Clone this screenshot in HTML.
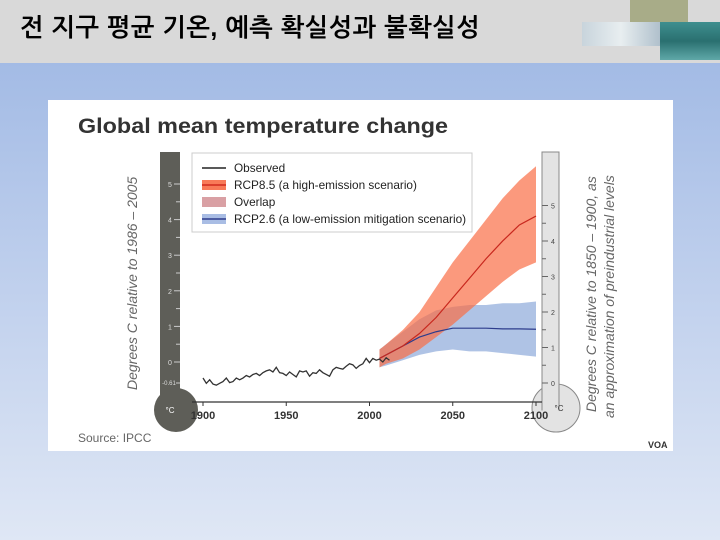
<!DOCTYPE html>
<html><head><meta charset="utf-8">
<style>
body{margin:0;width:720px;height:540px;overflow:hidden;font-family:"Liberation Sans","Noto Sans CJK KR",sans-serif;}
#bg{position:absolute;left:0;top:0;width:720px;height:540px;background:linear-gradient(#a3bbe5 63px,#b5c8ea 200px,#dfe7f5 540px);}
#hdr{position:absolute;left:0;top:0;width:720px;height:63px;background:#d9d9d9;}
#title{position:absolute;left:20px;top:14px;font-size:25px;font-weight:bold;color:#000;letter-spacing:0.5px;font-family:"Liberation Sans","NanumGothic","Noto Sans CJK KR",sans-serif;}
#panel{position:absolute;left:48px;top:100px;width:625px;height:351px;background:#fff;}
</style></head><body>
<div id="bg"></div>
<div id="hdr">
<div id="title">전 지구 평균 기온, 예측 확실성과 불확실성</div>
<div style="position:absolute;left:582px;top:22px;width:78px;height:24px;background:linear-gradient(90deg,#c8d4dc,#e8eef0,#b0c0cc);"></div>
<div style="position:absolute;left:630px;top:0;width:58px;height:22px;background:#a8ac88;"></div>
<div style="position:absolute;left:660px;top:22px;width:60px;height:38px;background:linear-gradient(#3f8f8f,#2a7070 50%,#5fa8a8);"></div>
</div>
<div id="panel"></div>
<svg id="chart" width="720" height="540" style="position:absolute;left:0;top:0"></svg>
<script>
const obsYears=[1900,1902,1904,1906,1908,1910,1912,1914,1916,1918,1920,1922,1924,1926,1928,1930,1932,1934,1936,1938,1940,1942,1944,1946,1948,1950,1952,1954,1956,1958,1960,1962,1964,1966,1968,1970,1972,1974,1976,1978,1980,1982,1984,1986,1988,1990,1992,1994,1996,1998,2000,2002,2004,2006,2008,2010,2012];
const obsValues=[-0.45,-0.6,-0.5,-0.62,-0.65,-0.6,-0.55,-0.45,-0.58,-0.55,-0.45,-0.5,-0.45,-0.38,-0.42,-0.35,-0.32,-0.38,-0.3,-0.25,-0.22,-0.28,-0.15,-0.3,-0.32,-0.38,-0.28,-0.35,-0.42,-0.25,-0.28,-0.25,-0.4,-0.3,-0.32,-0.22,-0.3,-0.35,-0.4,-0.22,-0.15,-0.18,-0.2,-0.12,-0.05,-0.08,-0.18,-0.1,-0.05,0.1,-0.02,0.1,0.05,0.08,0.0,0.12,0.05];
const projYears=[2006,2010,2020,2030,2040,2050,2060,2070,2080,2090,2100];
const rcp85Mean=[0.1,0.2,0.45,0.8,1.25,1.8,2.35,2.9,3.4,3.85,4.1];
const rcp85Upper=[0.35,0.5,0.9,1.4,2.1,2.8,3.4,4.0,4.6,5.1,5.5];
const rcp85Lower=[-0.15,-0.05,0.1,0.35,0.7,1.05,1.45,1.85,2.25,2.6,2.8];
const rcp26Mean=[0.1,0.2,0.45,0.7,0.85,0.95,0.95,0.95,0.93,0.93,0.92];
const rcp26Upper=[0.35,0.5,0.85,1.2,1.45,1.55,1.6,1.6,1.65,1.65,1.7];
const rcp26Lower=[-0.15,-0.1,0.05,0.2,0.3,0.35,0.3,0.3,0.25,0.2,0.15];
const xTicks=[1900,1950,2000,2050,2100];
const leftTicks=[0,1,2,3,4,5];
const rightTicks=[0,1,2,3,4,5];

const NS="http://www.w3.org/2000/svg";
const svg=document.getElementById('chart');
const xs=y=>203+(y-1900)*1.665;
const ys=v=>362-v*35.6;
const yr=v=>383-v*35.5;
function mk(t,a,p){const e=document.createElementNS(NS,t);for(const k in a)e.setAttribute(k,a[k]);(p||svg).appendChild(e);return e;}
function txt(x,y,s,a,p){const e=mk('text',Object.assign({x:x,y:y},a),p);e.textContent=s;return e;}

let t=txt(78,133,'Global mean temperature change',{'font-size':21,'font-weight':'bold',fill:'#333',textLength:370,lengthAdjust:'spacingAndGlyphs'});



let g=mk('g',{});


mk('rect',{x:160,y:152,width:20,height:250,fill:'#5e5e58'},g);
mk('circle',{cx:176,cy:410,r:22,fill:'#5e5e58'},g);
txt(170,413,'°C',{'font-size':8,fill:'#fff','text-anchor':'middle'},g);
leftTicks.forEach(v=>{mk('line',{x1:174,x2:180,y1:ys(v),y2:ys(v),stroke:'#ccc','stroke-width':1},g);txt(170,ys(v)+3,String(v),{'font-size':7,fill:'#ddd','text-anchor':'middle'},g);});
[0.5,1.5,2.5,3.5,4.5].forEach(v=>mk('line',{x1:176,x2:180,y1:ys(v),y2:ys(v),stroke:'#ccc'},g));
txt(169,385,'-0.61',{'font-size':6,fill:'#ddd','text-anchor':'middle'},g);
mk('line',{x1:176,x2:180,y1:383,y2:383,stroke:'#ccc'},g);
t=txt(0,0,'Degrees C relative to 1986 – 2005',{'font-size':14,'font-style':'italic',fill:'#666',transform:'translate(137,390) rotate(-90)'});



g=mk('g',{});


mk('circle',{cx:556,cy:408,r:24,fill:'#e3e3e3',stroke:'#888','stroke-width':1},g);
mk('rect',{x:542,y:152,width:17,height:258,fill:'#e3e3e3',stroke:'#888','stroke-width':1},g);
mk('rect',{x:542.5,y:390,width:16,height:22,fill:'#e3e3e3'},g);
txt(559,411,'°C',{'font-size':8,fill:'#333','text-anchor':'middle'},g);
rightTicks.forEach(v=>{mk('line',{x1:542,x2:548,y1:yr(v),y2:yr(v),stroke:'#666'},g);txt(553,yr(v)+3,String(v),{'font-size':7,fill:'#444','text-anchor':'middle'},g);});
[0.5,1.5,2.5,3.5,4.5].forEach(v=>mk('line',{x1:542,x2:546,y1:yr(v),y2:yr(v),stroke:'#666'},g));
t=txt(0,0,'Degrees C relative to 1850 – 1900, as',{'font-size':14,'font-style':'italic',fill:'#666',transform:'translate(596,412) rotate(-90)'});


t=txt(0,0,'an approximation of preindustrial levels',{'font-size':14,'font-style':'italic',fill:'#666',transform:'translate(614,418) rotate(-90)'});



g=mk('g',{});


mk('line',{x1:192,x2:542,y1:402,y2:402,stroke:'#333','stroke-width':1.2},g);
xTicks.forEach(y=>{mk('line',{x1:xs(y),x2:xs(y),y1:402,y2:406,stroke:'#333'},g);txt(xs(y),419,String(y),{'font-size':11,'font-weight':'bold',fill:'#333','text-anchor':'middle'},g);});

function band(up,lo,fill,name){
  let d='M'+projYears.map((y,i)=>xs(y)+','+ys(up[i])).join('L');
  for(let i=projYears.length-1;i>=0;i--)d+='L'+xs(projYears[i])+','+ys(lo[i]);
  const p=mk('path',{d:d+'Z',fill:fill});
  
  
}
function line(xa,va,col,w,name){
  const p=mk('polyline',{points:xa.map((y,i)=>xs(y)+','+ys(va[i])).join(' '),fill:'none',stroke:col,'stroke-width':w});
  
  
}
band(rcp26Upper,rcp26Lower,'rgba(122,155,212,0.6)','rcp26-range');
band(rcp85Upper,rcp85Lower,'rgba(250,110,70,0.7)','rcp85-range');
line(projYears,rcp26Mean,'#2d3c8c',1.2,'rcp26-mean-line');
line(projYears,rcp85Mean,'#c8281e',1.2,'rcp85-mean-line');
line(obsYears,obsValues,'#333',1.3,'observed-line');

g=mk('g',{});


mk('rect',{x:192,y:153,width:280,height:79,fill:'#fff',stroke:'#ccc'},g);
const L=[['line','#222','Observed',168],['band85','#f87a58','RCP8.5 (a high-emission scenario)',185],['band','#d9a0a4','Overlap',202],['band26','#a9bde4','RCP2.6 (a low-emission mitigation scenario)',219]];
L.forEach(l=>{
  const e=mk('g',{},g);
  
  
  if(l[0]!=='line')mk('rect',{x:202,y:l[3]-5,width:24,height:10,fill:l[1]},e);
  if(l[0]==='line')mk('line',{x1:202,x2:226,y1:l[3],y2:l[3],stroke:'#222','stroke-width':1.5},e);
  if(l[0]==='band85')mk('line',{x1:202,x2:226,y1:l[3],y2:l[3],stroke:'#d02a1e','stroke-width':1.5},e);
  if(l[0]==='band26')mk('line',{x1:202,x2:226,y1:l[3],y2:l[3],stroke:'#2d3c8c','stroke-width':1.5},e);
  txt(234,l[3]+4,l[2],{'font-size':11.8,fill:'#222'},e);
});

t=txt(78,442,'Source: IPCC',{'font-size':12,fill:'#666'});


t=txt(648,448,'VOA',{'font-size':9,'font-weight':'bold',fill:'#333'});


</script>
</body></html>
